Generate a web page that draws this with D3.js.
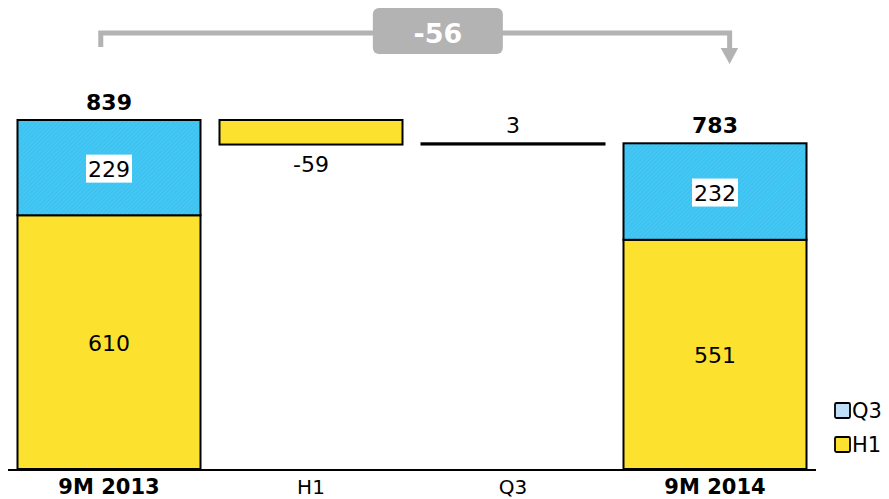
<!DOCTYPE html>
<html><head><meta charset="utf-8">
<script src="https://cdn.jsdelivr.net/npm/d3@7"></script>
<style>body{margin:0;background:#fff}svg{display:block}</style>
</head><body>
<script>
const categories = ["9M 2013", "H1", "Q3", "9M 2014"];
const totalH1 = [610, null, null, 551];
const totalQ3 = [229, null, null, 232];
const deltas = [null, -59, 3, null];
const totalChange = -56;
const legendLabels = ["Q3", "H1"];

const W = 889, H = 499;
const svg = d3.select("body").append("svg").attr("width", W).attr("height", H);
const defs = svg.append("defs");
const pat = defs.append("pattern").attr("id","hatch").attr("patternUnits","userSpaceOnUse")
  .attr("width",3).attr("height",3).attr("patternTransform","rotate(45)");
pat.append("rect").attr("width",3).attr("height",3).attr("fill","#3cc3f2");
pat.append("line").attr("x1",0).attr("y1",0).attr("x2",0).attr("y2",3).attr("stroke","#5acdf4").attr("stroke-width",1);
const pat2 = defs.append("pattern").attr("id","hatchL").attr("patternUnits","userSpaceOnUse")
  .attr("width",3).attr("height",3).attr("patternTransform","rotate(45)");
pat2.append("rect").attr("width",3).attr("height",3).attr("fill","#bcdcf7");
pat2.append("line").attr("x1",0).attr("y1",0).attr("x2",0).attr("y2",3).attr("stroke","#d3e8fb").attr("stroke-width",1);

const YELLOW = "#fde12f";
const FONT = "DejaVu Sans, Verdana, sans-serif";

const x = d3.scaleBand().domain(categories).range([8, 816]).paddingInner(0.094).paddingOuter(0.047);
const y = d3.scaleLinear().domain([0, 839]).range([469, 120]);
const bw = x.bandwidth();

// stacked total bars
categories.forEach((c, i) => {
  if (totalH1[i] == null) return;
  const h1 = totalH1[i], q3 = totalQ3[i], tot = h1 + q3;
  const g = svg.append("g");
  g.append("rect").attr("x", x(c)).attr("y", y(h1)).attr("width", bw).attr("height", y(0) - y(h1))
    .attr("fill", YELLOW).attr("stroke", "#000").attr("stroke-width", 2);
  g.append("rect").attr("x", x(c)).attr("y", y(tot)).attr("width", bw).attr("height", y(h1) - y(tot))
    .attr("fill", "url(#hatch)").attr("stroke", "#000").attr("stroke-width", 2);
  g.append("text").attr("x", x(c) + bw/2).attr("y", y(h1/2) + 9).attr("text-anchor","middle")
    .attr("font-family", FONT).attr("font-size", 22).attr("fill","#000").text(h1);
  const cy = (y(h1) + y(tot)) / 2;
  const t = g.append("text").attr("x", x(c) + bw/2).attr("y", cy + 9).attr("text-anchor","middle")
    .attr("font-family", FONT).attr("font-size", 22).attr("fill","#000").text(q3);
  const bb = t.node().getBBox();
  g.insert("rect", "text:last-child").attr("x", bb.x - 2).attr("y", cy - 13).attr("width", bb.width + 4).attr("height", 28).attr("fill","#fff");
  g.append("text").attr("x", x(c) + bw/2).attr("y", y(tot) - 10).attr("text-anchor","middle")
    .attr("font-family", FONT).attr("font-size", 22).attr("font-weight","bold").attr("fill","#000").text(tot);
});

// waterfall deltas
let running = totalH1[0] + totalQ3[0];
categories.forEach((c, i) => {
  const d = deltas[i];
  if (d == null) return;
  const start = running, end = running + d;
  running = end;
  const top = y(Math.max(start, end)), bot = y(Math.min(start, end));
  svg.append("rect").attr("x", x(c)).attr("y", top).attr("width", bw).attr("height", Math.max(bot - top, 0.5))
    .attr("fill", YELLOW).attr("stroke", "#000").attr("stroke-width", 2);
  if (d < 0) {
    svg.append("text").attr("x", x(c) + bw/2).attr("y", bot + 27).attr("text-anchor","middle")
      .attr("font-family", FONT).attr("font-size", 22).attr("fill","#000").text(d);
  } else {
    svg.append("text").attr("x", x(c) + bw/2).attr("y", top - 10).attr("text-anchor","middle")
      .attr("font-family", FONT).attr("font-size", 22).attr("fill","#000").text(d);
  }
});

// axis line and labels
svg.append("line").attr("x1", 8).attr("x2", 816).attr("y1", y(0) + 1).attr("y2", y(0) + 1)
  .attr("stroke", "#000").attr("stroke-width", 2);
categories.forEach((c, i) => {
  const isTot = totalH1[i] != null;
  svg.append("text").attr("x", x(c) + bw/2).attr("y", 494).attr("text-anchor","middle")
    .attr("font-family", FONT).attr("font-size", isTot ? 21 : 20).attr("font-weight", isTot ? "bold" : "normal")
    .attr("fill","#000").text(c);
});

// bracket annotation
const GRAY = "#b3b3b3";
const xl = x(categories[0]) + bw * 0.455, xr = x(categories[3]) + bw * 0.58, yb = 33;
svg.append("path").attr("d", `M${xl},47 V${yb} H${xr} V50`).attr("fill","none")
  .attr("stroke", GRAY).attr("stroke-width", 5);
svg.append("path").attr("d", `M${xr-9},48 L${xr+8.5},48 L${xr},64 Z`).attr("fill", GRAY);
const bx = xl + (xr - xl) * 0.536;
svg.append("rect").attr("x", bx - 65).attr("y", 8).attr("width", 130).attr("height", 46).attr("rx", 6)
  .attr("fill", GRAY);
svg.append("text").attr("x", bx).attr("y", 43).attr("text-anchor","middle")
  .attr("font-family", FONT).attr("font-size", 27).attr("font-weight","bold").attr("fill","#fff").text(totalChange);

// legend
const lg = svg.append("g");
legendLabels.forEach((l, i) => {
  const ly = 403 + i * 34;
  lg.append("rect").attr("x", 835).attr("y", ly).attr("width", 15).attr("height", 15).attr("rx", 1.5)
    .attr("fill", i === 0 ? "url(#hatchL)" : YELLOW).attr("stroke", "#000").attr("stroke-width", 1.8);
  lg.append("text").attr("x", 852).attr("y", ly + 15).attr("font-family", FONT).attr("font-size", 21)
    .attr("fill","#000").text(l);
});
</script>
</body></html>
